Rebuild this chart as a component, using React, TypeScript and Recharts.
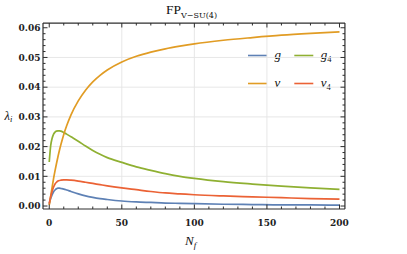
import React from "react";
import { LineChart, Line, XAxis, YAxis, CartesianGrid } from "recharts";

// N_f sample points and the four fixed-point couplings
const nfValues = [0, 1, 2, 3, 4, 5, 6, 7, 8, 10, 12, 15, 20, 25, 30, 35, 40, 50, 60, 70, 80, 90, 100, 120, 140, 160, 180, 200];
const gValues = [0.0008, 0.0025, 0.0038, 0.0048, 0.0054, 0.0058, 0.006, 0.006, 0.0059, 0.0057, 0.0054, 0.0049, 0.0041, 0.0034, 0.0029, 0.0025, 0.0022, 0.0017, 0.0014, 0.0012, 0.001, 0.0009, 0.0008, 0.0006, 0.0005, 0.0004, 0.0004, 0.0003];
const g4Values = [0.0148, 0.0203, 0.0228, 0.0242, 0.0249, 0.0252, 0.0253, 0.0253, 0.0252, 0.0247, 0.0242, 0.0233, 0.0218, 0.0202, 0.0187, 0.0174, 0.0163, 0.0147, 0.0132, 0.012, 0.0109, 0.01, 0.0093, 0.0082, 0.0074, 0.0067, 0.0061, 0.0056];
const vValues = [0.0003, 0.0033, 0.0064, 0.0093, 0.0119, 0.0143, 0.0166, 0.0187, 0.0206, 0.0241, 0.027, 0.0307, 0.0354, 0.039, 0.0418, 0.044, 0.0458, 0.0485, 0.0504, 0.0518, 0.0529, 0.0538, 0.0546, 0.0558, 0.0567, 0.0575, 0.0581, 0.0586];
const v4Values = [0.0008, 0.0032, 0.005, 0.0064, 0.0074, 0.008, 0.0084, 0.0086, 0.0087, 0.0088, 0.0088, 0.0087, 0.0084, 0.008, 0.0076, 0.0072, 0.0068, 0.0061, 0.0055, 0.0049, 0.0044, 0.0041, 0.0038, 0.0034, 0.0031, 0.0028, 0.0025, 0.0023];

// ticks (major ones get labels)
const xTicks = [0, 10, 20, 30, 40, 50, 60, 70, 80, 90, 100, 110, 120, 130, 140, 150, 160, 170, 180, 190, 200];
const xMajor = [0, 50, 100, 150, 200];
const yTicks = [
  0, 0.002, 0.004, 0.006, 0.008, 0.01, 0.012, 0.014, 0.016, 0.018, 0.02, 0.022, 0.024, 0.026, 0.028, 0.03,
  0.032, 0.034, 0.036, 0.038, 0.04, 0.042, 0.044, 0.046, 0.048, 0.05, 0.052, 0.054, 0.056, 0.058, 0.06,
];
const yMajor = [0, 0.01, 0.02, 0.03, 0.04, 0.05, 0.06];
const xGrid = [50, 100, 150];
const yGrid = [0.01, 0.02, 0.03, 0.04, 0.05];

const series = [
  { key: "g", label: "g", sub: "", color: "#5E81B5" },
  { key: "g4", label: "g", sub: "4", color: "#8FB032" },
  { key: "v", label: "v", sub: "", color: "#E19C24" },
  { key: "v4", label: "v", sub: "4", color: "#EB6235" },
];

const data = nfValues.map((nf, i) => ({
  nf,
  g: gValues[i],
  g4: g4Values[i],
  v: vValues[i],
  v4: v4Values[i],
}));

const W = 407;
const H = 254;
const MARGIN = { top: 23, right: 62, bottom: 0, left: 0 };
const X_AXIS_H = 45;
const Y_AXIS_W = 43;
const PLOT_W = W - MARGIN.left - MARGIN.right - Y_AXIS_W;
const PLOT_H = H - MARGIN.top - MARGIN.bottom - X_AXIS_H;

const FRAME = "#2e2e2e";
const FRAME_W = 1.2;
const tickFont = "'DejaVu Serif', serif";
const textFont = "'Liberation Serif', serif";
const X_DOMAIN = [-4.3, 203.8];
const Y_DOMAIN = [-0.001, 0.0616];

const near = (a: number, list: number[]) => list.some((m) => Math.abs(m - a) < 1e-9);

// bottom tick + label, plus the matching inward tick on the top frame edge
const BottomTick = (props: any) => {
  const { x, y, payload } = props;
  const major = near(payload.value, xMajor);
  const len = major ? 4.5 : 2.5;
  const top = y - PLOT_H;
  return (
    <g>
      <line x1={x} x2={x} y1={y} y2={y - len} stroke={FRAME} strokeWidth={1} />
      <line x1={x} x2={x} y1={top} y2={top + len} stroke={FRAME} strokeWidth={1} />
      {major && (
        <text x={x} y={y + 16.5} textAnchor="middle" fontFamily={tickFont} fontSize={9} fontWeight="bold" fill="#222">
          {payload.value}
        </text>
      )}
    </g>
  );
};

// left tick + label, plus the matching inward tick on the right frame edge
const LeftTick = (props: any) => {
  const { x, y, payload } = props;
  const major = near(payload.value, yMajor);
  const len = major ? 4.5 : 2.5;
  const right = x + PLOT_W;
  return (
    <g>
      <line x1={x} x2={x + len} y1={y} y2={y} stroke={FRAME} strokeWidth={1} />
      <line x1={right} x2={right - len} y1={y} y2={y} stroke={FRAME} strokeWidth={1} />
      {major && (
        <text x={x - 2.5} y={y} dy="0.36em" textAnchor="end" fontFamily={tickFont} fontSize={9} fontWeight="bold" fill="#222">
          {payload.value.toFixed(2)}
        </text>
      )}
    </g>
  );
};

export default function App() {
  const legendRows = [
    { y: 55.5, items: [series[0], series[1]] },
    { y: 83.5, items: [series[2], series[3]] },
  ];
  return (
    <div style={{ position: "absolute", left: 0, top: 0, width: W, height: H, background: "#fff" }}>
      {/* text layer sits underneath the (transparent) chart svg */}
      <svg width={W} height={H} style={{ position: "absolute", left: 0, top: 0 }}>
        <text x={166} y={14} fontFamily={textFont} fontSize={13.5} fill="#111">
          FP
          <tspan fontFamily={tickFont} fontSize={8} dy={3.8}>
            V−SU(4)
          </tspan>
        </text>
        <text x={4.5} y={119.5} fontFamily={textFont} fontSize={12.5} fontStyle="italic" fill="#111">
          λ
          <tspan fontSize={8.5} dy={2}>
            i
          </tspan>
        </text>
        <text x={185} y={245} fontFamily={textFont} fontSize={13} fontStyle="italic" fill="#111">
          N
          <tspan fontSize={9} dy={3}>
            f
          </tspan>
        </text>
        {legendRows.map((row) =>
          row.items.map((s, j) => {
            const x0 = j === 0 ? 248 : 294.3;
            return (
              <g key={s.key}>
                <line x1={x0} x2={x0 + 19} y1={row.y} y2={row.y} stroke={s.color} strokeWidth={1.6} />
                <text x={x0 + 26.5} y={row.y + 3.5} fontFamily={textFont} fontSize={13} fontStyle="italic" fill="#111">
                  {s.label}
                  {s.sub && (
                    <tspan fontStyle="normal" fontSize={8.5} dy={2.5}>
                      {s.sub}
                    </tspan>
                  )}
                </text>
              </g>
            );
          })
        )}
      </svg>

      <LineChart width={W} height={H} data={data} margin={MARGIN}>
        <CartesianGrid stroke="#e4e4e4" strokeWidth={0.9} verticalValues={xGrid} horizontalValues={yGrid} />
        {/* top and right edges of the frame (a hair inside the domain) */}
        <CartesianGrid stroke={FRAME} strokeWidth={FRAME_W} verticalValues={[203.75]} horizontalValues={[0.06158]} />
        <XAxis
          dataKey="nf"
          type="number"
          domain={X_DOMAIN}
          allowDataOverflow
          ticks={xTicks}
          interval={0}
          height={X_AXIS_H}
          tickSize={0}
          tickMargin={0}
          tickLine={false}
          axisLine={{ stroke: FRAME, strokeWidth: FRAME_W }}
          tick={BottomTick}
        />
        <YAxis
          type="number"
          domain={Y_DOMAIN}
          allowDataOverflow
          ticks={yTicks}
          interval={0}
          width={Y_AXIS_W}
          tickSize={0}
          tickMargin={0}
          tickLine={false}
          axisLine={{ stroke: FRAME, strokeWidth: FRAME_W }}
          tick={LeftTick}
        />
        {series.map((s) => (
          <Line
            key={s.key}
            dataKey={s.key}
            type="monotone"
            stroke={s.color}
            strokeWidth={1.7}
            dot={false}
            isAnimationActive={false}
          />
        ))}
      </LineChart>
    </div>
  );
}
